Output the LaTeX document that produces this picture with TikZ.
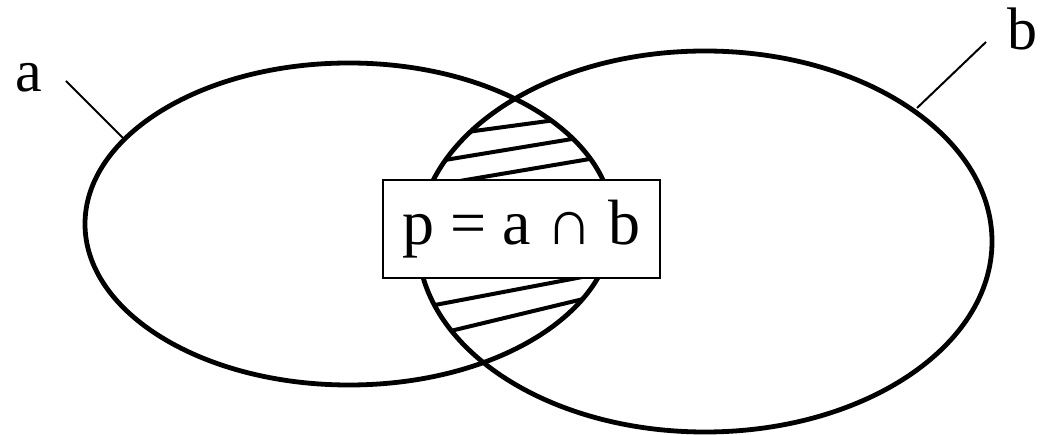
\documentclass[tikz,border=0pt]{standalone}
\usepackage{fontspec}
\setmainfont{Liberation Serif}
\begin{document}
\begin{tikzpicture}[x=1pt,y=-1pt,
  setline/.style={line width=4.8pt},
  hatch/.style={line width=4pt},
  leader/.style={line width=2pt},
  lbl/.style={font=\fontsize{60}{66}\selectfont, inner sep=0pt, anchor=base},
  eqbox/.style={draw, fill=white, line width=2.5pt, minimum width=277pt, minimum height=98pt, inner sep=0pt, font=\fontsize{64}{70}\selectfont}]
\useasboundingbox (0,0) rectangle (1047,435);
% sets
\draw[setline] (349,224) ellipse [x radius=264, y radius=161];
\draw[setline] (705,241.5) ellipse [x radius=287, y radius=190.5];
% hatching in intersection
\begin{scope}
  \clip (349,224) ellipse [x radius=264, y radius=161];
  \clip (705,241.5) ellipse [x radius=287, y radius=190.5];
  \draw[hatch] (367,145.5) -- (663,105.5);
  \draw[hatch] (345,176.5) -- (684,120.5);
  \draw[hatch] (377,195) -- (702,140);
  \draw[hatch] (335,324) -- (677,259);
  \draw[hatch] (355,354) -- (687,274);
\end{scope}
% equation box
\node[eqbox] (eq) at (521.5,229) {p = a ∩ b};
% labels
\node[lbl] (la) at (29,92) {a};
\node[lbl] (lb) at (1022,50) {b};
\coordinate (aend) at (66,81);
\coordinate (aon) at (125,140);
\coordinate (bend) at (986,42);
\coordinate (bon) at (917,108);
\draw[leader] (aend) -- (aon);
\draw[leader] (bend) -- (bon);
\end{tikzpicture}
\end{document}
